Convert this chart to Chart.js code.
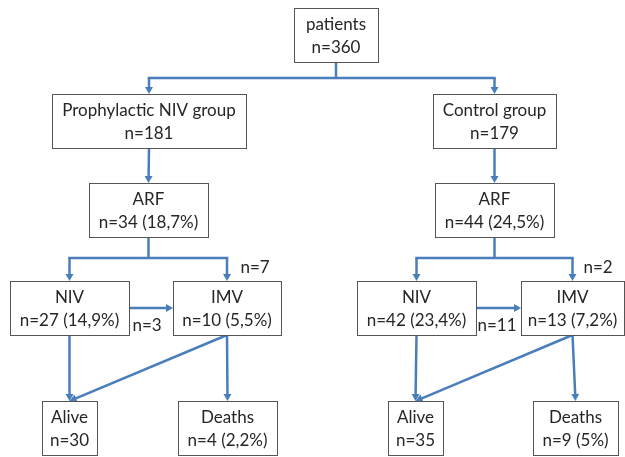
<!DOCTYPE html>
<html>
<head>
<meta charset="utf-8">
<script src="https://cdn.jsdelivr.net/npm/chart.js@4"></script>
<style>
  body { margin: 0; background: #fff; }
  canvas { display: block; }
</style>
</head>
<body>
<canvas id="myChart" width="625" height="457"></canvas>
<script>
// datos del diagrama
const nodeNames = ["patients", "Prophylactic NIV group", "Control group", "ARF", "ARF",
  "NIV", "IMV", "NIV", "IMV", "Alive", "Deaths", "Alive", "Deaths"];
const nodeCounts = ["n=360", "n=181", "n=179", "n=34 (18,7%)", "n=44 (24,5%)",
  "n=27 (14,9%)", "n=10 (5,5%)", "n=42 (23,4%)", "n=13 (7,2%)",
  "n=30", "n=4 (2,2%)", "n=35", "n=9 (5%)"];
// flujos de pacientes (desde, hasta, etiqueta)
const flowFrom = [5, 7, 3, 4];
const flowTo = [6, 8, 6, 8];
const flowLabels = ["n=3", "n=11", "n=7", "n=2"];

// posicion de cada caja en unidades de las escalas: [x0, y0, x1, y1]
const boxes = [
  [294, 8, 378, 62],
  [52, 94, 246, 148],
  [433, 94, 556, 148],
  [89, 183, 208, 237],
  [435, 183, 554, 237],
  [10, 281, 129, 335],
  [173, 281, 281, 335],
  [357, 281, 476, 335],
  [521, 281, 624, 335],
  [42, 401, 97, 455],
  [178, 401, 277, 455],
  [388, 401, 443, 455],
  [533, 401, 618, 455],
];
// ramas: padre, hijos, altura de la linea horizontal
const splits = [
  [0, [1, 2], 78],
  [3, [5, 6], 258],
  [4, [7, 8], 258],
];
const straight = [[1, 3], [2, 4], [5, 9], [6, 10], [7, 11], [8, 12], [6, 9], [8, 11]];
// donde va cada etiqueta de flujo
const flowLabelPos = [[147, 326], [497, 326], [255, 268], [598, 268]];

const blue = "#4a7ebb";
const font = "17px Lato";

const cx = (b) => (b[0] + b[2]) / 2;
const cy = (b) => (b[1] + b[3]) / 2;

function arrow(c, x1, y1, x2, y2) {
  const a = Math.atan2(y2 - y1, x2 - x1);
  const len = 7, half = 4;
  c.beginPath();
  c.moveTo(x1, y1);
  c.lineTo(x2 - Math.cos(a) * len * 0.8, y2 - Math.sin(a) * len * 0.8);
  c.stroke();
  c.beginPath();
  c.moveTo(x2, y2);
  c.lineTo(x2 - Math.cos(a) * len - Math.sin(a) * half, y2 - Math.sin(a) * len + Math.cos(a) * half);
  c.lineTo(x2 - Math.cos(a) * len + Math.sin(a) * half, y2 - Math.sin(a) * len - Math.cos(a) * half);
  c.closePath();
  c.fill();
}

const flowchart = {
  id: "flowchart",
  afterDatasetsDraw(chart) {
    const c = chart.ctx;
    const X = (v) => chart.scales.x.getPixelForValue(v);
    const Y = (v) => chart.scales.y.getPixelForValue(v);
    c.save();
    c.strokeStyle = blue;
    c.fillStyle = blue;
    c.lineWidth = 2.5;
    // ramas
    splits.forEach(([p, kids, h]) => {
      const pb = boxes[p];
      c.beginPath();
      c.moveTo(X(cx(pb)), Y(pb[3]));
      c.lineTo(X(cx(pb)), Y(h));
      c.stroke();
      c.beginPath();
      c.moveTo(X(cx(boxes[kids[0]])) - 1.25, Y(h));
      c.lineTo(X(cx(boxes[kids[1]])) + 1.25, Y(h));
      c.stroke();
      kids.forEach((k) => arrow(c, X(cx(boxes[k])), Y(h), X(cx(boxes[k])), Y(boxes[k][1])));
    });
    // flechas directas (verticales o diagonales)
    straight.forEach(([a, b]) => {
      const A = boxes[a], B = boxes[b];
      arrow(c, X(cx(A)), Y(A[3]), X(cx(B)), Y(B[1]));
    });
    // NIV -> IMV
    flowFrom.slice(0, 2).forEach((a, i) => {
      const A = boxes[a], B = boxes[flowTo[i]];
      arrow(c, X(A[2]), Y(cy(A)), X(B[0]), Y(cy(B)));
    });
    // cajas
    c.lineWidth = 1;
    c.strokeStyle = "#555";
    c.font = font;
    c.textAlign = "center";
    boxes.forEach((b, i) => {
      c.fillStyle = "#fff";
      c.fillRect(X(b[0]), Y(b[1]), X(b[2]) - X(b[0]), Y(b[3]) - Y(b[1]));
      c.strokeRect(Math.round(X(b[0])) + 0.5, Math.round(Y(b[1])) + 0.5,
        Math.round(X(b[2]) - X(b[0])), Math.round(Y(b[3]) - Y(b[1])));
      c.fillStyle = "#262626";
      c.fillText(nodeNames[i], X(cx(b)), Y(cy(b) - 5));
      c.fillText(nodeCounts[i], X(cx(b)), Y(cy(b) + 18));
    });
    // etiquetas de flujo
    c.textBaseline = "middle";
    flowLabels.forEach((t, i) => {
      c.fillText(t, X(flowLabelPos[i][0]), Y(flowLabelPos[i][1]));
    });
    c.restore();
  },
};

const ctx = document.getElementById("myChart");

new Chart(ctx, {
  type: "scatter",
  data: {
    datasets: [
      {
        label: "nodos",
        data: boxes.map((b, i) => ({ x: cx(b), y: cy(b), name: nodeNames[i] })),
        pointRadius: 0,
      },
    ],
  },
  options: {
    responsive: false,
    animation: false,
    layout: { padding: 0 },
    plugins: { legend: { display: false }, tooltip: { enabled: false } },
    scales: {
      x: { type: "linear", min: 0, max: 625, display: false },
      y: { type: "linear", min: 0, max: 457, reverse: true, display: false },
    },
  },
  plugins: [flowchart],
});
</script>
</body>
</html>
